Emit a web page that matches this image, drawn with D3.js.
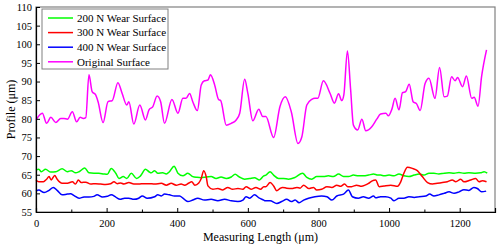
<!DOCTYPE html>
<html>
<head>
<meta charset="utf-8">
<script src="https://cdn.jsdelivr.net/npm/d3@7"></script>
<style>
  body { margin: 0; background: #fff; }
  text { font-family: "Liberation Serif", "Times New Roman", serif; }
</style>
</head>
<body>
<div id="chart"></div>
<script>
// profiles: [measuring length (µm), profile (µm)]
const original = [
  [0,79.7],[18,81.5],[30,78.8],[42,80.4],[56,79.0],[70,80.1],[79,80.1],[89,79.9],[103,81.9],
  [115,79.2],[125,80.4],[134,80.1],[141,80.3],[150,91.8],[159,87.3],[169,86.4],[176,84.5],
  [190,79.0],[204,84.6],[216,84.9],[232,89.7],[244,86.8],[257,83.7],[263,84.6],[277,78.6],
  [294,83.7],[310,79.7],[320,82.4],[331,83.3],[343,86.1],[353,84.6],[364,78.8],[385,85.2],
  [402,81.5],[416,85.5],[425,85.5],[435,86.8],[444,84.6],[457,82.2],[468,89.1],[477,90.2],
  [487,90.4],[494,91.8],[506,89.1],[517,85.2],[523,84.9],[539,78.3],[553,78.8],[567,79.7],
  [577,81.5],[591,90.6],[600,86.8],[614,79.5],[631,82.6],[642,80.6],[651,80.6],[673,75.0],
  [691,83.3],[706,85.9],[723,81.9],[742,73.4],[753,75.2],[767,83.7],[781,85.2],[790,85.5],
  [798,85.5],[814,90.2],[833,86.8],[845,84.2],[857,86.7],[866,84.9],[872,86.5],[882,98.2],
  [891,88.0],[899,78.3],[911,77.0],[923,79.9],[934,76.8],[951,77.9],[965,79.9],[976,81.3],
  [991,81.5],[998,80.8],[1008,82.6],[1017,85.5],[1028,82.4],[1038,87.0],[1047,87.3],
  [1057,89.3],[1068,84.6],[1078,84.0],[1088,82.2],[1102,89.5],[1113,90.9],[1130,85.5],
  [1143,93.8],[1156,85.9],[1165,86.1],[1177,91.3],[1187,90.2],[1194,91.1],[1208,88.6],
  [1219,91.5],[1234,85.5],[1241,85.8],[1252,83.4],[1262,91.3],[1276,98.5]
];

const wear200 = [
  [0,66.3],[8,66.45],[15,65.8],[27,66.45],[42,65.7],[56,65.8],[74,66.6],[89,65.8],[100,66.1],
  [112,65.5],[122,65.8],[138,66.8],[150,65.5],[164,65.4],[178,65.4],[192,65.2],[202,65.1],
  [213,66.7],[226,65.4],[235,64.0],[247,64.5],[257,64.0],[270,65.4],[285,64.0],[296,64.7],
  [310,66.45],[320,65.8],[326,65.5],[336,66.1],[345,65.4],[359,65.5],[369,65.2],[378,65.8],
  [391,67.3],[402,65.4],[416,64.7],[430,65.4],[444,64.5],[456,64.3],[468,64.2],[482,64.4],
  [496,64.5],[510,64.0],[524,64.4],[539,64.0],[553,64.4],[564,65.1],[576,64.4],[591,63.8],
  [605,64.0],[619,64.2],[633,63.6],[645,64.7],[651,64.9],[663,65.8],[673,64.9],[687,64.0],
  [701,64.0],[715,63.8],[734,64.3],[755,65.4],[767,64.3],[781,63.8],[795,64.5],[814,64.5],
  [828,64.7],[842,64.5],[857,65.2],[871,64.5],[885,64.5],[899,64.9],[913,64.7],[927,64.7],
  [942,64.9],[956,65.2],[968,64.9],[976,64.9],[986,64.7],[1000,64.9],[1014,64.7],[1028,65.2],
  [1042,64.7],[1056,64.5],[1071,64.9],[1085,65.2],[1099,64.9],[1113,65.4],[1127,65.4],
  [1141,65.2],[1156,65.4],[1170,65.5],[1184,65.4],[1198,65.6],[1212,65.4],[1226,65.5],
  [1245,65.4],[1259,65.5],[1269,65.8],[1278,65.4]
];

const wear300 = [
  [0,63.6],[8,63.1],[21,63.1],[30,63.8],[37,64.5],[43,63.6],[53,64.8],[60,63.8],[74,62.7],
  [89,62.7],[103,63.1],[112,62.5],[120,63.6],[128,62.9],[141,63.0],[155,62.5],[169,62.6],
  [183,62.5],[197,62.4],[211,62.6],[221,63.1],[230,62.6],[240,62.8],[249,62.5],[263,62.9],
  [277,62.5],[291,62.5],[306,62.6],[320,62.6],[336,62.5],[355,62.7],[369,62.2],[383,62.7],
  [397,62.2],[411,62.5],[421,62.2],[432,62.7],[441,63.1],[450,62.2],[461,62.8],[468,64.0],
  [475,66.1],[482,64.5],[487,62.0],[501,61.1],[515,61.3],[529,60.9],[543,61.6],[557,61.1],
  [572,61.3],[586,61.1],[595,61.8],[609,61.1],[623,61.6],[636,61.1],[645,61.8],[651,61.8],
  [663,62.9],[673,62.0],[682,60.7],[691,61.3],[698,61.6],[710,61.4],[724,61.3],[739,61.6],
  [748,61.4],[758,62.2],[772,61.3],[786,61.6],[795,60.9],[809,61.1],[824,61.8],[838,61.6],
  [852,62.2],[863,61.9],[874,62.5],[883,61.8],[894,61.8],[908,62.2],[922,61.9],[932,62.2],
  [942,62.7],[951,63.3],[962,63.6],[972,61.8],[986,62.0],[1005,62.2],[1024,61.9],[1033,63.1],
  [1042,65.4],[1052,67.0],[1066,66.7],[1080,66.1],[1094,64.5],[1109,62.9],[1123,62.5],
  [1137,62.7],[1151,62.9],[1165,63.1],[1179,63.6],[1189,63.1],[1203,63.8],[1212,63.1],
  [1231,63.6],[1245,64.0],[1255,63.1],[1264,63.4],[1276,63.1]
];

const wear400 = [
  [0,60.6],[8,60.9],[23,60.2],[37,60.8],[49,61.6],[60,60.8],[74,59.6],[89,59.8],[98,59.9],
  [108,59.4],[122,58.7],[136,59.0],[150,59.0],[164,59.2],[173,59.6],[188,59.0],[202,59.2],
  [213,59.6],[226,59.0],[238,58.4],[251,58.7],[263,58.7],[277,58.4],[291,58.7],[301,59.3],
  [315,58.7],[336,59.1],[345,59.6],[355,59.3],[364,59.8],[378,59.6],[392,59.3],[407,59.3],
  [416,58.7],[430,57.8],[444,58.2],[458,58.7],[477,58.2],[496,58.4],[515,58.0],[534,58.4],
  [553,58.0],[572,57.8],[586,58.2],[595,59.1],[605,58.7],[619,59.6],[633,58.7],[645,58.2],
  [649,58.0],[663,58.0],[682,57.3],[696,57.8],[710,58.4],[723,57.8],[734,58.2],[745,57.5],
  [758,58.2],[772,58.7],[790,59.1],[809,59.3],[824,59.1],[838,58.2],[852,59.3],[871,59.8],
  [885,60.9],[896,59.1],[913,58.7],[927,59.1],[942,58.7],[956,59.3],[962,58.8],[976,59.1],
  [990,59.1],[1005,58.7],[1014,58.0],[1028,58.7],[1042,58.7],[1056,59.1],[1071,58.9],
  [1085,59.1],[1104,59.3],[1115,59.8],[1127,59.3],[1141,59.6],[1156,60.0],[1170,60.4],
  [1184,60.0],[1198,60.4],[1212,61.0],[1226,60.8],[1240,61.6],[1250,61.3],[1262,60.4],[1275,60.6]
];

const seriesNames = ["200 N Wear Surface", "300 N Wear Surface", "400 N Wear Surface", "Original Surface"];
const seriesColors = ["#00ff00", "#ff0000", "#0000ff", "#ff00ff"];
const xTicks = [0, 200, 400, 600, 800, 1000, 1200];
const yTicks = [55, 60, 65, 70, 75, 80, 85, 90, 95, 100, 105, 110];

const W = 500, H = 246;
const margin = { top: 7, right: 5, bottom: 34, left: 36 };
const width = W - margin.left - margin.right,
    height = H - margin.top - margin.bottom;

const svg = d3.select("#chart").append("svg")
    .attr("width", W).attr("height", H)
  .append("g")
    .attr("transform", "translate(" + margin.left + "," + margin.top + ")");

const x = d3.scaleLinear().domain([0, 1300]).range([0, width]);
const y = d3.scaleLinear().domain([55, 110]).range([height, 0]);

// gray frame
svg.append("rect")
    .attr("width", width).attr("height", height)
    .attr("fill", "none").attr("stroke", "#808080").attr("stroke-width", 1.2);

const line = d3.line()
    .x(d => x(d[0]))
    .y(d => y(d[1]))
    .curve(d3.curveMonotoneX);

const allSeries = [wear200, wear300, wear400, original];
allSeries.forEach((s, i) => {
  svg.append("path")
      .datum(s)
      .attr("fill", "none")
      .attr("stroke", seriesColors[i])
      .attr("stroke-width", 1.5)
      .attr("d", line);
});

// axes, ticks pointing inward
const xAxis = svg.append("g")
    .attr("transform", "translate(0," + height + ")")
    .call(d3.axisBottom(x).tickValues(d3.range(0, 1301, 100)).tickSize(-4).tickPadding(8)
      .tickFormat(d => xTicks.includes(d) ? d : ""));
xAxis.selectAll(".tick line").attr("y2", d => xTicks.includes(d) ? -4 : -2.5);

const yAxis = svg.append("g")
    .call(d3.axisLeft(y).tickValues(yTicks).tickSize(-4).tickPadding(4));

[xAxis, yAxis].forEach(a => {
  a.select(".domain").attr("stroke", "#000").attr("stroke-width", 1.2);
  a.selectAll(".tick line").attr("stroke", "#000");
  a.selectAll("text").style("font-family", "Liberation Serif").style("font-size", "10.5px").attr("fill", "#000");
});

svg.append("text")
    .attr("x", width / 2 - 5).attr("y", height + 29)
    .attr("text-anchor", "middle")
    .style("font-size", "12px")
    .text("Measuring Length (μm)");

svg.append("text")
    .attr("transform", "rotate(-90)")
    .attr("x", -height / 2).attr("y", -21)
    .attr("text-anchor", "middle")
    .style("font-size", "12px")
    .text("Profile (μm)");

// legend
const legend = svg.append("g").attr("transform", "translate(6,2)");
legend.append("rect")
    .attr("width", 126).attr("height", 60)
    .attr("fill", "#fff").attr("stroke", "#808080").attr("stroke-width", 1);
seriesNames.forEach((name, i) => {
  const ly = 9 + i * 14.6;
  legend.append("line")
      .attr("x1", 6).attr("x2", 31).attr("y1", ly).attr("y2", ly)
      .attr("stroke", seriesColors[i]).attr("stroke-width", 1.5);
  legend.append("text")
      .attr("x", 35).attr("y", ly + 3.8)
      .style("font-size", "11px")
      .text(name);
});
</script>
</body>
</html>
